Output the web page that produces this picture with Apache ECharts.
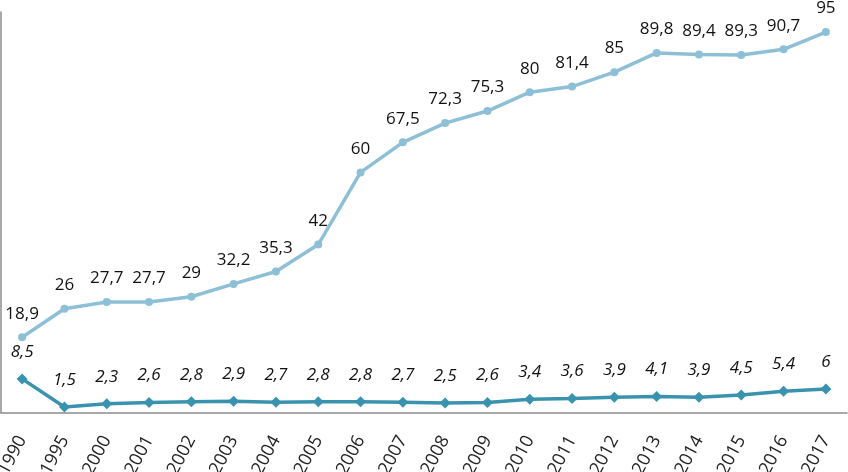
<!DOCTYPE html>
<html>
<head>
<meta charset="utf-8">
<script src="https://cdn.jsdelivr.net/npm/echarts@6/dist/echarts.min.js"></script>
<style>html,body{margin:0;padding:0;background:#fff}#c{width:848px;height:472px}</style>
</head>
<body>
<div id="c"></div>
<script>
const categories = ['1990','1995','2000','2001','2002','2003','2004','2005','2006','2007','2008','2009','2010','2011','2012','2013','2014','2015','2016','2017'];
const seriesUpper = [18.9,26,27.7,27.7,29,32.2,35.3,42,60,67.5,72.3,75.3,80,81.4,85,89.8,89.4,89.3,90.7,95];
const seriesLower = [8.5,1.5,2.3,2.6,2.8,2.9,2.7,2.8,2.8,2.7,2.5,2.6,3.4,3.6,3.9,4.1,3.9,4.5,5.4,6];

const fmt = p => String(p.value).replace('.', ',');
const chart = echarts.init(document.getElementById('c'));
chart.setOption({
  animation: false,
  grid: {left: 1, right: 1, top: 12, bottom: 59, containLabel: false, outerBoundsMode: 'none'},
  xAxis: {
    type: 'category', data: categories, boundaryGap: true,
    axisLine: {lineStyle: {color: '#8c8c8c', width: 1.5}},
    axisTick: {inside: true, length: 7, lineStyle: {color: '#8c8c8c', width: 1.5}},
    axisLabel: {rotate: 62, color: '#222', fontSize: 18, fontFamily: 'Open Sans', margin: 24, interval: 0, hideOverlap: false}
  },
  yAxis: {
    type: 'value', min: 0, max: 100,
    axisLine: {show: true, lineStyle: {color: '#8c8c8c', width: 1.5}},
    axisTick: {show: false}, axisLabel: {show: false}, splitLine: {show: false}
  },
  series: [
    {
      type: 'line', data: seriesUpper, symbol: 'circle', symbolSize: 8,
      lineStyle: {color: '#8dc0d6', width: 3.5}, itemStyle: {color: '#8dc0d6'},
      label: {show: true, position: 'top', distance: 11, formatter: fmt, color: '#111', fontSize: 17, fontFamily: 'Open Sans'}
    },
    {
      type: 'line', data: seriesLower, symbol: 'diamond', symbolSize: 11,
      lineStyle: {color: '#3a93ae', width: 3.5}, itemStyle: {color: '#3a93ae'},
      label: {show: true, position: 'top', distance: 13, formatter: fmt, color: '#111', fontSize: 17, fontStyle: 'italic', fontFamily: 'Open Sans'}
    }
  ]
});
</script>
</body>
</html>
